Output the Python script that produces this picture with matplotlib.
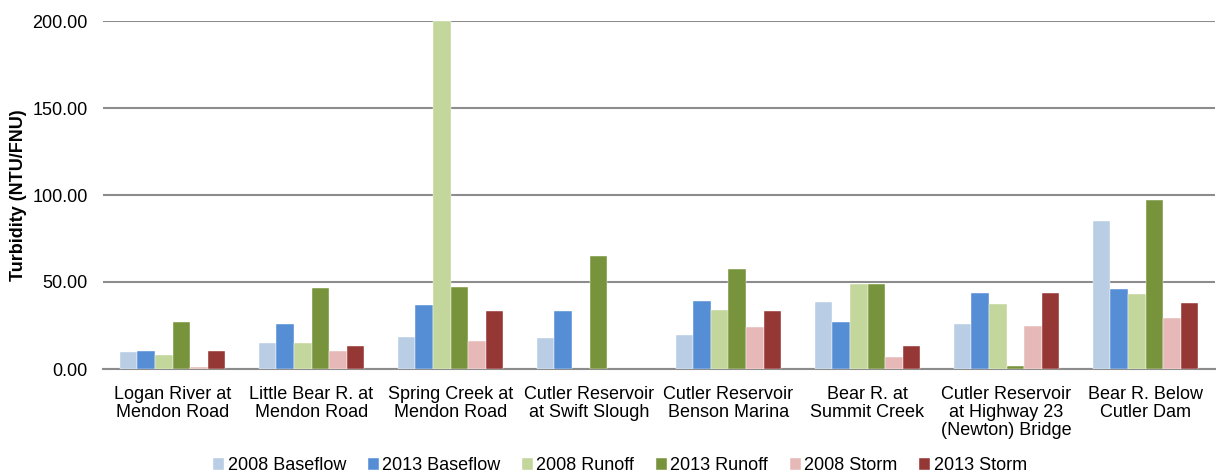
import numpy as np
import matplotlib.pyplot as plt

plt.rcParams['font.family'] = ['Liberation Sans', 'DejaVu Sans']

# -----------------------
# Data
# -----------------------
sites = [
    "Logan River at\nMendon Road",
    "Little Bear R. at\nMendon Road",
    "Spring Creek at\nMendon Road",
    "Cutler Reservoir\nat Swift Slough",
    "Cutler Reservoir\nBenson Marina",
    "Bear R. at\nSummit Creek",
    "Cutler Reservoir\nat Highway 23\n(Newton) Bridge",
    "Bear R. Below\nCutler Dam",
]

series_names = ["2008 Baseflow", "2013 Baseflow", "2008 Runoff",
                "2013 Runoff", "2008 Storm", "2013 Storm"]

base_2008 = [10.0, 15.0, 18.3, 18.1, 19.6, 38.7, 25.9, 85.2]
base_2013 = [10.6, 25.8, 36.8, 33.1, 39.2, 27.1, 43.7, 46.0]
runoff_2008 = [7.9, 15.0, 200.0, np.nan, 34.0, 49.0, 37.5, 43.3]
runoff_2013 = [27.0, 46.3, 47.3, 65.2, 57.5, 49.0, 1.5, 96.9]
storm_2008 = [1.3, 10.4, 16.2, np.nan, 24.2, 6.9, 24.8, 29.4]
storm_2013 = [10.6, 13.3, 33.3, np.nan, 33.1, 13.1, 43.7, 38.1]

colors = ["#B9CDE5", "#558ED5", "#C3D69B", "#77933C", "#E6B9B8", "#953735"]

all_series = [base_2008, base_2013, runoff_2008, runoff_2013, storm_2008, storm_2013]

# -----------------------
# Plot
# -----------------------
fig = plt.figure(figsize=(12.16, 4.76), dpi=100)
ax = fig.add_axes([103 / 1216, 1 - 369 / 476, (1215 - 103) / 1216, (369 - 21) / 476])

x = np.arange(len(sites))
w = 0.126
for i, (vals, c, name) in enumerate(zip(all_series, colors, series_names)):
    ax.bar(x + (i - 2.5) * w, vals, width=w, color=c, label=name,
           edgecolor="white", linewidth=0.3, zorder=3)

ax.set_xlim(-0.5, len(sites) - 0.5)
ax.set_ylim(0, 200)
ax.set_yticks([0, 50, 100, 150, 200])
ax.set_yticklabels([f"{v:.2f}" for v in [0, 50, 100, 150, 200]], fontsize=13)
ax.set_xticks(x)
ax.set_xticklabels(sites, fontsize=13, linespacing=1.1)
ax.tick_params(axis="y", length=0, pad=11)
ax.tick_params(axis="x", length=0, pad=12)
ax.grid(axis="y", color="#8c8c8c", linewidth=1.5, zorder=0)
ax.set_axisbelow(True)
for s in ["left", "right", "top"]:
    ax.spines[s].set_visible(False)
ax.spines["bottom"].set_color("#8c8c8c")
ax.spines["bottom"].set_linewidth(1.5)

ax.set_ylabel("Turbidity (NTU/FNU)", fontsize=13, fontweight="bold", labelpad=4)

fig.legend(*ax.get_legend_handles_labels(), loc="center",
           bbox_to_anchor=(620 / 1216, 1 - 466 / 476), ncol=6, frameon=False,
           fontsize=13, handlelength=0.6, handleheight=0.6, handletextpad=0.2,
           columnspacing=1.2, borderpad=0)

fig.savefig("out.png", dpi=100)
